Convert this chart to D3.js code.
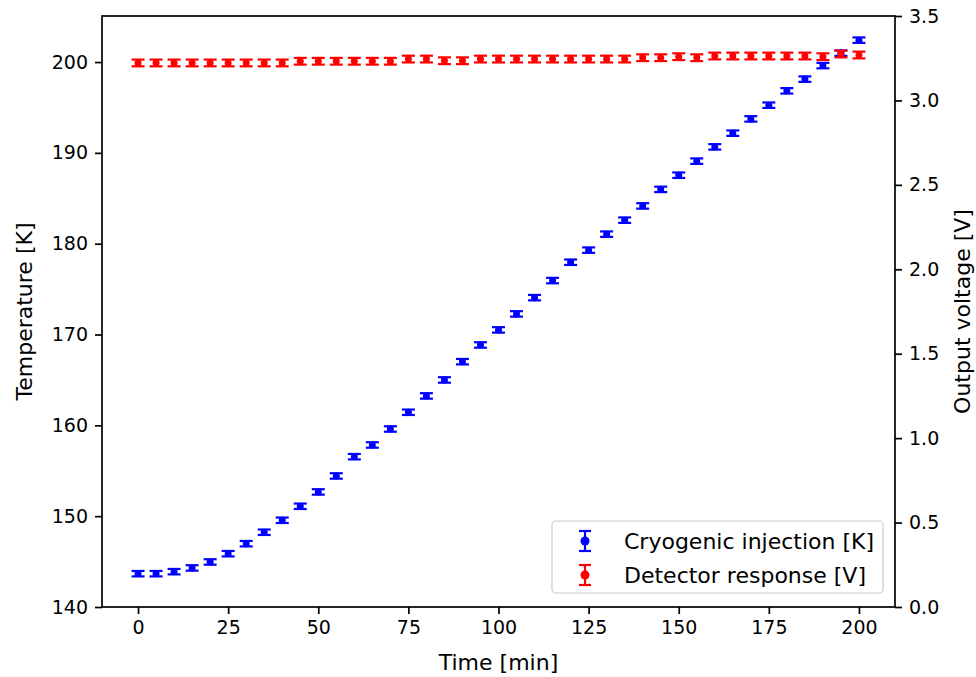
<!DOCTYPE html>
<html>
<head>
<meta charset="utf-8">
<script src="https://cdn.jsdelivr.net/npm/d3@7"></script>
<style>
  html, body { margin: 0; padding: 0; background: #fff; }
  svg { display: block; font-family: "DejaVu Sans", sans-serif; }
</style>
</head>
<body>
<svg id="chart" width="976" height="677"></svg>
<script>
const timeMin = [0, 5, 10, 15, 20, 25, 30, 35, 40, 45, 50, 55, 60, 65, 70, 75, 80, 85, 90, 95, 100,
  105, 110, 115, 120, 125, 130, 135, 140, 145, 150, 155, 160, 165, 170, 175, 180, 185, 190, 195, 200];
const temperatureK = [143.67, 143.67, 143.89, 144.30, 144.96, 145.87, 146.97, 148.23, 149.55, 151.09, 152.67,
  154.43, 156.55, 157.84, 159.60, 161.44, 163.24, 165.00, 167.01, 168.85, 170.51,
  172.27, 174.06, 175.94, 177.96, 179.29, 181.05, 182.59, 184.16, 185.98, 187.54,
  189.09, 190.66, 192.17, 193.74, 195.25, 196.83, 198.12, 199.61, 200.98, 202.41];
const temperatureErr = 0.3;
const voltageV = [3.222, 3.222, 3.222, 3.222, 3.222, 3.222, 3.222, 3.222, 3.222, 3.232, 3.232,
  3.232, 3.232, 3.232, 3.232, 3.245, 3.245, 3.235, 3.235, 3.245, 3.245,
  3.245, 3.245, 3.245, 3.245, 3.245, 3.245, 3.245, 3.253, 3.253, 3.259,
  3.253, 3.263, 3.263, 3.263, 3.263, 3.263, 3.263, 3.259, 3.275, 3.269];
const voltageErr = 0.02;
const xTicks = [0, 25, 50, 75, 100, 125, 150, 175, 200];
const leftTicks = [140, 150, 160, 170, 180, 190, 200];
const rightTicks = [0.0, 0.5, 1.0, 1.5, 2.0, 2.5, 3.0, 3.5];
const seriesNames = ["Cryogenic injection [K]", "Detector response [V]"];
const seriesColors = ["#0000ff", "#ff0000"];

const svg = d3.select("#chart");
const L = 102, R = 895, T = 16, B = 607;
const x = d3.scaleLinear().domain([-10, 210]).range([L, R]);
const yL = d3.scaleLinear().domain([140, 205.07]).range([B, T]);
const yR = d3.scaleLinear().domain([0, 3.5]).range([B, T]);

const tickFs = 19;
const labelFs = 22;

function styleAxis(g) {
  g.select(".domain").remove();
  g.selectAll(".tick line").attr("stroke", "#000").attr("stroke-width", 1.7);
  g.selectAll(".tick text").attr("font-family", "DejaVu Sans").attr("font-size", tickFs).attr("fill", "#000");
}

svg.append("g").attr("transform", `translate(0,${B})`)
  .call(d3.axisBottom(x).tickValues(xTicks).tickSize(7).tickPadding(7).tickFormat(d3.format("d")))
  .call(styleAxis);
svg.append("g").attr("transform", `translate(${L},0)`)
  .call(d3.axisLeft(yL).tickValues(leftTicks).tickSize(7).tickPadding(7).tickFormat(d3.format("d")))
  .call(styleAxis);
svg.append("g").attr("transform", `translate(${R},0)`)
  .call(d3.axisRight(yR).tickValues(rightTicks).tickSize(7).tickPadding(7).tickFormat(d3.format(".1f")))
  .call(styleAxis);

// frame
svg.append("rect").attr("x", L).attr("y", T).attr("width", R - L).attr("height", B - T)
  .attr("fill", "none").attr("stroke", "#000").attr("stroke-width", 1.7);

// axis labels
svg.append("text").attr("x", (L + R) / 2).attr("y", 670).attr("text-anchor", "middle")
  .attr("font-size", labelFs).text("Time [min]");
svg.append("text").attr("transform", `translate(32,${(T + B) / 2}) rotate(-90)`).attr("text-anchor", "middle")
  .attr("font-size", labelFs).text("Temperature [K]");
svg.append("text").attr("transform", `translate(970,${(T + B) / 2}) rotate(-90)`).attr("text-anchor", "middle")
  .attr("font-size", labelFs).text("Output voltage [V]");

const plot = svg.append("g");
function drawSeries(xs, ys, err, yScale, color) {
  const cap = 6.5;
  const pts = xs.map((t, i) => ({ t, v: ys[i] }));
  const grp = plot.append("g");
  grp.selectAll("g").data(pts).join("g").each(function (d) {
    const s = d3.select(this);
    const cx = x(d.t), y1 = yScale(d.v + err), y0 = yScale(d.v - err);
    s.append("line").attr("x1", cx).attr("x2", cx).attr("y1", y1).attr("y2", y0)
      .attr("stroke", color).attr("stroke-width", 2.2);
    s.append("line").attr("x1", cx - cap).attr("x2", cx + cap).attr("y1", y1).attr("y2", y1)
      .attr("stroke", color).attr("stroke-width", 2.2);
    s.append("line").attr("x1", cx - cap).attr("x2", cx + cap).attr("y1", y0).attr("y2", y0)
      .attr("stroke", color).attr("stroke-width", 2.2);
    s.append("circle").attr("cx", cx).attr("cy", yScale(d.v)).attr("r", 3.5).attr("fill", color);
  });
}
drawSeries(timeMin, temperatureK, temperatureErr, yL, seriesColors[0]);
drawSeries(timeMin, voltageV, voltageErr, yR, seriesColors[1]);

// legend
const lg = svg.append("g");
lg.append("rect").attr("x", 552).attr("y", 521).attr("width", 331).attr("height", 72)
  .attr("rx", 4).attr("fill", "#fff").attr("fill-opacity", 0.8)
  .attr("stroke", "#cccccc").attr("stroke-width", 1.2);
seriesNames.forEach((name, i) => {
  const cy = 541 + i * 34;
  const hx = 585;
  const c = seriesColors[i];
  lg.append("line").attr("x1", hx).attr("x2", hx).attr("y1", cy - 10).attr("y2", cy + 10)
    .attr("stroke", c).attr("stroke-width", 2.2);
  lg.append("line").attr("x1", hx - 6).attr("x2", hx + 6).attr("y1", cy - 10).attr("y2", cy - 10)
    .attr("stroke", c).attr("stroke-width", 2.2);
  lg.append("line").attr("x1", hx - 6).attr("x2", hx + 6).attr("y1", cy + 10).attr("y2", cy + 10)
    .attr("stroke", c).attr("stroke-width", 2.2);
  lg.append("circle").attr("cx", hx).attr("cy", cy).attr("r", 4.5).attr("fill", c);
  lg.append("text").attr("x", 624).attr("y", cy).attr("dy", "0.36em")
    .attr("font-size", labelFs).attr("fill", "#000").text(name);
});
</script>
</body>
</html>
